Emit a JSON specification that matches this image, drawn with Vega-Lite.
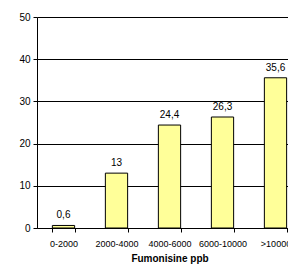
{
  "$schema": "https://vega.github.io/schema/vega-lite/v6.json",
  "autosize": {"type": "none"},
  "padding": {"left": 37, "top": 17, "right": 0, "bottom": 46},
  "width": 251,
  "height": 211,
  "background": "white",
  "config": {"view": {"stroke": null}, "font": "Liberation Sans"},
  "data": {"values": [
    {"cat": "0-2000", "value": 0.6, "label": "0,6"},
    {"cat": "2000-4000", "value": 13, "label": "13"},
    {"cat": "4000-6000", "value": 24.4, "label": "24,4"},
    {"cat": "6000-10000", "value": 26.3, "label": "26,3"},
    {"cat": ">10000", "value": 35.6, "label": "35,6"}
  ]},
  "encoding": {
    "x": {"field": "cat", "type": "nominal", "sort": null,
      "scale": {"range": [0, 265], "paddingInner": 0.58, "paddingOuter": 0.29},
      "axis": {"title": "Fumonisine ppb", "titleFont": "Liberation Sans", "titleFontSize": 10, "titleFontWeight": "bold", "titleColor": "black", "titlePadding": 5,
        "labelAngle": 0, "labelFontSize": 9, "labelColor": "black", "labelPadding": 7, "labelFont": "Liberation Sans",
        "tickBand": "extent", "tickColor": "black", "tickSize": 4, "domainColor": "black", "grid": false}},
    "y": {"field": "value", "type": "quantitative",
      "scale": {"domain": [0, 50]},
      "axis": {"title": null, "values": [0, 10, 20, 30, 40, 50], "labelFontSize": 10, "labelColor": "black", "labelPadding": 3, "labelFont": "Liberation Sans",
        "tickColor": "black", "tickSize": 4, "domainColor": "black", "gridColor": "black", "gridOpacity": 1}}
  },
  "layer": [
    {"mark": {"type": "bar", "fill": "#FFFF99", "stroke": "black", "strokeWidth": 1}},
    {"mark": {"type": "text", "dy": -10, "fontSize": 10, "color": "black", "font": "Liberation Sans"},
      "encoding": {"text": {"field": "label"}}}
  ]
}
